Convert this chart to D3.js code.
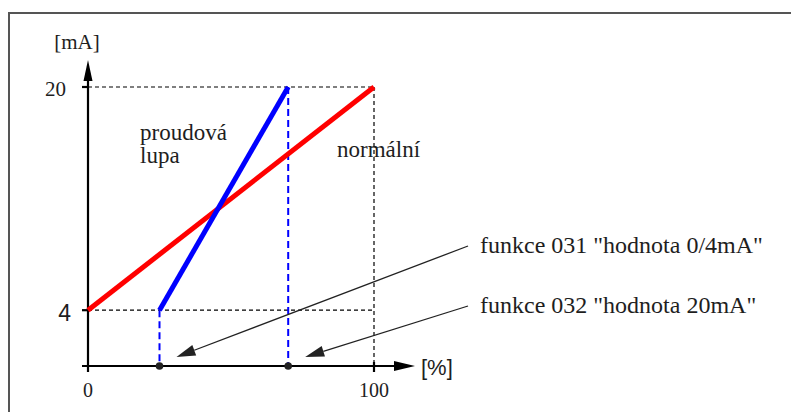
<!DOCTYPE html>
<html>
<head>
<meta charset="utf-8">
<script src="https://cdn.jsdelivr.net/npm/d3@7"></script>
<style>
  html, body { margin: 0; padding: 0; background: #fff; }
  svg { display: block; }
</style>
</head>
<body>
<svg id="chart" width="791" height="412"></svg>
<script>
// Output current (mA) against measured value (%)
const normalLine = [{ pct: 0, mA: 4 }, { pct: 100, mA: 20 }];   // "normální"
const zoomLine   = [{ pct: 25, mA: 4 }, { pct: 70, mA: 20 }];   // "proudová lupa"
const yTicks = [4, 20];
const xTicks = [0, 100];
const yTickLabels = ["4", "20"];
const xTickLabels = ["0", "100"];
const notes = [
  { text: 'funkce 031 "hodnota 0/4mA"', pct: 25 },
  { text: 'funkce 032 "hodnota 20mA"', pct: 70 }
];

const svg = d3.select("#chart");
const x = d3.scaleLinear().domain([0, 100]).range([88, 374]);
const y = d3.scaleLinear().domain([0, 20]).range([366, 87]);

const serif = "'Liberation Serif', 'Times New Roman', serif";
const sans = "'Liberation Sans', Arial, sans-serif";
const ink = "#1e1e1e";

// frame
svg.append("path")
  .attr("d", "M9,412 V13 H791")
  .attr("fill", "none").attr("stroke", "#555").attr("stroke-width", 2);

// dashed guides at 4 mA and 20 mA
const guides = svg.append("g").attr("stroke", "#000").attr("stroke-width", 1.2)
  .attr("stroke-dasharray", "4,3").attr("fill", "none");
guides.append("line").attr("x1", x(0)).attr("x2", x(100)).attr("y1", y(4)).attr("y2", y(4));
guides.append("line").attr("x1", x(0)).attr("x2", x(100)).attr("y1", y(20)).attr("y2", y(20));
guides.append("line").attr("x1", x(100)).attr("x2", x(100)).attr("y1", y(20)).attr("y2", y(0));

// blue dashed drop lines from the zoom range ends
const drops = svg.append("g").attr("stroke", "#0000ff").attr("stroke-width", 2)
  .attr("stroke-dasharray", "7,4");
zoomLine.forEach(d => {
  drops.append("line").attr("x1", x(d.pct)).attr("x2", x(d.pct))
    .attr("y1", y(d.mA)).attr("y2", y(0));
});

// axes
const ax = svg.append("g").attr("stroke", "#000").attr("stroke-width", 2.2);
ax.append("line").attr("x1", x(0)).attr("x2", x(0)).attr("y1", y(0) + 6).attr("y2", 78);
ax.append("line").attr("x1", x(0) - 6).attr("x2", 397).attr("y1", y(0)).attr("y2", y(0));
yTicks.forEach(v => ax.append("line").attr("x1", x(0) - 6).attr("x2", x(0)).attr("y1", y(v)).attr("y2", y(v)));
ax.append("line").attr("x1", x(100)).attr("x2", x(100)).attr("y1", y(0) - 4).attr("y2", y(0) + 6);
svg.append("path").attr("d", `M${x(0)},60 L${x(0) - 4.5},81 L${x(0) + 4.5},81 Z`).attr("fill", "#000");
svg.append("path").attr("d", `M415,${y(0)} L394,${y(0) - 5} L394,${y(0) + 5} Z`).attr("fill", "#000");

// characteristic lines
const line = d3.line().x(d => x(d.pct)).y(d => y(d.mA));
svg.append("path").datum(normalLine).attr("d", line)
  .attr("stroke", "#ff0000").attr("stroke-width", 5).attr("fill", "none");
svg.append("path").datum(zoomLine).attr("d", line)
  .attr("stroke", "#0000ff").attr("stroke-width", 5).attr("fill", "none");

// dots on the x axis
svg.selectAll("circle.pt").data(zoomLine).enter().append("circle")
  .attr("cx", d => x(d.pct)).attr("cy", y(0)).attr("r", 3.8).attr("fill", "#222");

// tick labels
svg.append("text").attr("x", x(0) - 17).attr("y", y(4) + 11)
  .attr("text-anchor", "end").attr("font-family", sans).attr("font-size", 23).attr("fill", ink)
  .text(yTickLabels[0]);
svg.append("text").attr("x", x(0) - 22).attr("y", y(20) + 9)
  .attr("text-anchor", "end").attr("font-family", serif).attr("font-size", 21).attr("fill", ink)
  .text(yTickLabels[1]);
xTicks.forEach((v, i) => {
  svg.append("text").attr("x", x(v)).attr("y", 397).attr("text-anchor", "middle")
    .attr("font-family", serif).attr("font-size", 20).attr("fill", ink).text(xTickLabels[i]);
});

// axis units
svg.append("text").attr("x", 77).attr("y", 49).attr("text-anchor", "middle")
  .attr("font-family", serif).attr("font-size", 21).attr("fill", ink).text("[mA]");
svg.append("text").attr("x", 421).attr("y", 375)
  .attr("font-family", sans).attr("font-size", 22).attr("fill", ink).text("[%]");

// line names
const names = svg.append("g").attr("font-family", serif).attr("font-size", 23).attr("fill", ink);
names.append("text").attr("x", 140).attr("y", 140).text("proudová");
names.append("text").attr("x", 140).attr("y", 163).text("lupa");
names.append("text").attr("x", 337).attr("y", 157).text("normální");

// function annotations with leader arrows
const noteY = [253, 313];
notes.forEach((n, i) => {
  svg.append("text").attr("x", 480).attr("y", noteY[i])
    .attr("font-family", serif).attr("font-size", 24).attr("fill", ink).text(n.text);
  const sx = 468, sy = noteY[i] - 7;
  const tx = x(n.pct) + 17, ty = y(0) - 9;
  const ang = Math.atan2(sy - ty, sx - tx);
  const L = 19, W = 5.5;
  const bx = tx + L * Math.cos(ang), by = ty + L * Math.sin(ang);
  svg.append("line").attr("x1", sx).attr("y1", sy).attr("x2", bx).attr("y2", by)
    .attr("stroke", "#222").attr("stroke-width", 1.3);
  const px = -Math.sin(ang) * W, py = Math.cos(ang) * W;
  svg.append("path")
    .attr("d", `M${tx},${ty} L${bx + px},${by + py} L${bx - px},${by - py} Z`)
    .attr("fill", "#222");
});
</script>
</body>
</html>
